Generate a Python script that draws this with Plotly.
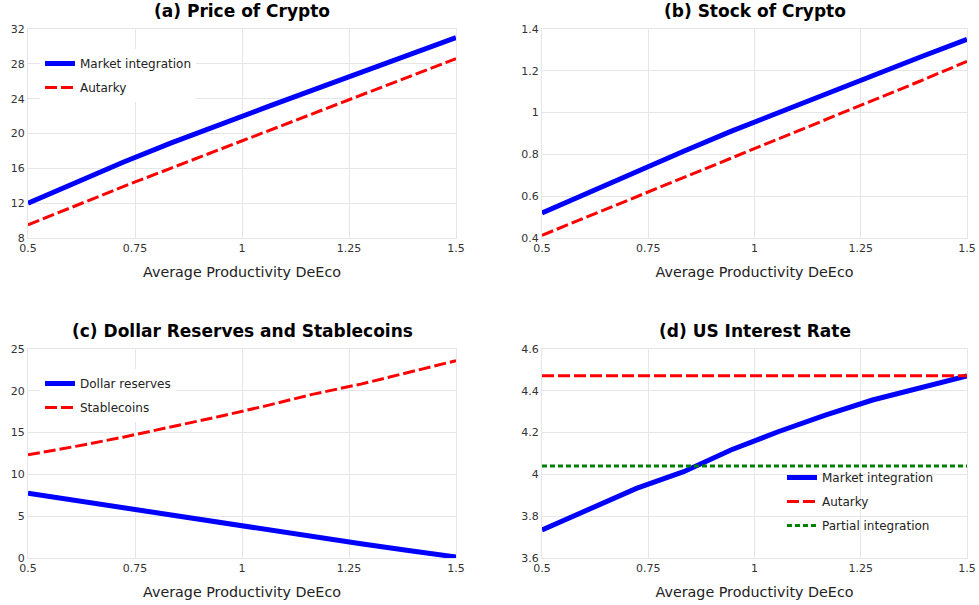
import plotly.graph_objects as go

x = [0.5, 0.6111, 0.7222, 0.8333, 0.9444, 1.0556, 1.1667, 1.2778, 1.3889, 1.5]

price_market = [12.0, 14.4, 16.7, 18.9, 21.0, 23.0, 25.0, 27.0, 29.0, 31.0]
price_autarky = [9.5, 11.7, 13.9, 16.0, 18.1, 20.2, 22.3, 24.4, 26.5, 28.6]

stock_market = [0.52, 0.62, 0.72, 0.815, 0.91, 1.0, 1.09, 1.18, 1.265, 1.35]
stock_autarky = [0.413, 0.505, 0.597, 0.689, 0.781, 0.873, 0.965, 1.057, 1.15, 1.245]

dollar_reserves = [7.75, 6.88, 6.0, 5.1, 4.25, 3.35, 2.5, 1.7, 0.9, 0.12]
stablecoins = [12.35, 13.35, 14.45, 15.65, 16.9, 18.2, 19.6, 20.8, 22.2, 23.6]

rate_market = [3.734, 3.833, 3.933, 4.013, 4.117, 4.204, 4.284, 4.356, 4.412, 4.471]
rate_autarky = [4.472] * 10
rate_partial = [4.04] * 10

titles = ["(a) Price of Crypto", "(b) Stock of Crypto",
          "(c) Dollar Reserves and Stablecoins", "(d) US Interest Rate"]
xlabel = "Average Productivity DeEco"
xticks = [0.5, 0.75, 1, 1.25, 1.5]
xticklabels = ["0.5", "0.75", "1", "1.25", "1.5"]
yt_a = [8, 12, 16, 20, 24, 28, 32]
yt_b = [0.4, 0.6, 0.8, 1.0, 1.2, 1.4]
yt_c = [0, 5, 10, 15, 20, 25]
yt_d = [3.6, 3.8, 4.0, 4.2, 4.4, 4.6]

FONT = "Verdana, DejaVu Sans, sans-serif"
BLUE = "#0000ff"
RED = "#ff0000"
GREEN = "#008000"

fig = go.Figure()

def blue(xx, yy, name, xa, ya, legend, show=True):
    fig.add_trace(go.Scatter(x=xx, y=yy, name=name, mode="lines",
                             line=dict(color=BLUE, width=5),
                             xaxis=xa, yaxis=ya, legend=legend, showlegend=show,
                             legendgroup=xa + name))

def red(xx, yy, name, xa, ya, legend, show=True):
    fig.add_trace(go.Scatter(x=xx, y=yy, name=name, mode="lines",
                             line=dict(color=RED, width=3, dash="12px,4px"),
                             xaxis=xa, yaxis=ya, legend=legend, showlegend=show,
                             legendgroup=xa + name))

blue(x, price_market, "Market integration", "x", "y", "legend")
red(x, price_autarky, "Autarky", "x", "y", "legend")
blue(x, stock_market, "Market integration", "x2", "y2", "legend", False)
red(x, stock_autarky, "Autarky", "x2", "y2", "legend", False)
blue(x, dollar_reserves, "Dollar reserves", "x3", "y3", "legend2")
red(x, stablecoins, "Stablecoins", "x3", "y3", "legend2")
blue(x, rate_market, "Market integration", "x4", "y4", "legend3")
red(x, rate_autarky, "Autarky", "x4", "y4", "legend3")
fig.add_trace(go.Scatter(x=x, y=rate_partial, name="Partial integration", mode="lines",
                         line=dict(color=GREEN, width=3, dash="5px,3px"),
                         xaxis="x4", yaxis="y4", legend="legend3",
                         legendgroup="x4partial"))

W, H = 979, 605
L, R, T, B = 28, 967, 29, 558          # pixel extents of the plot grid
ml, mt = L, T
mr, mb = W - R, H - B
pw, ph = W - ml - mr, H - mt - mb
dx1 = [0, (456 - L) / pw]
dx2 = [(542 - L) / pw, 1]
dy1 = [(B - 238) / ph, 1]
dy2 = [0, (B - 349) / ph]

def px_x(sx):
    return (sx - L) / pw

def px_y(sy):
    return (B - sy) / ph

grid = "#e6e6e6"
def xax(domain, anchor):
    return dict(domain=domain, anchor=anchor, range=[0.5, 1.5], tickvals=xticks,
                ticktext=xticklabels, showgrid=True, gridcolor=grid, gridwidth=1,
                zeroline=False, showline=True, linecolor=grid, mirror=True, automargin=False,
                ticks="", tickfont=dict(size=11, color="#333", family=FONT),
                title=dict(text=xlabel, font=dict(size=14.3, color="#222", family=FONT), standoff=12))

def yax(domain, anchor, rng, tickvals):
    return dict(domain=domain, anchor=anchor, range=rng, tickvals=tickvals,
                ticktext=["%g" % v for v in tickvals],
                showgrid=True, gridcolor=grid, gridwidth=1, zeroline=False, showline=True,
                linecolor=grid, mirror=True, automargin=False, ticks="",
                tickfont=dict(size=11, color="#333", family=FONT))

legend_common = dict(borderwidth=0, font=dict(size=12, color="#222", family=FONT),
                     xanchor="left", yanchor="top", tracegroupgap=5)

fig.update_layout(
    width=W, height=H, margin=dict(l=ml, r=mr, t=mt, b=mb, autoexpand=False),
    paper_bgcolor="white", plot_bgcolor="white",
    font=dict(family=FONT), hovermode=False,
    xaxis=xax(dx1, "y"), yaxis=yax(dy1, "x", [8, 32], yt_a),
    xaxis2=xax(dx2, "y2"), yaxis2=yax(dy1, "x2", [0.4, 1.4], yt_b),
    xaxis3=xax(dx1, "y3"), yaxis3=yax(dy2, "x3", [0, 25], yt_c),
    xaxis4=xax(dx2, "y4"), yaxis4=yax(dy2, "x4", [3.6, 4.6], yt_d),
    legend=dict(x=px_x(40), y=px_y(49), bgcolor="white", **legend_common),
    legend2=dict(x=px_x(40), y=px_y(369), bgcolor="white", **legend_common),
    legend3=dict(x=px_x(782), y=px_y(463), bgcolor="rgba(255,255,255,0)", **legend_common),
    showlegend=True,
)

centers = [(dx1[0] + dx1[1]) / 2, (dx2[0] + dx2[1]) / 2]
tpos = [(centers[0], dy1[1]), (centers[1], dy1[1]), (centers[0], dy2[1]), (centers[1], dy2[1])]
for t, (cx, cy) in zip(titles, tpos):
    fig.add_annotation(text="<b>" + t + "</b>", x=cx, y=cy, xref="paper", yref="paper",
                       xanchor="center", yanchor="middle", yshift=18, showarrow=False,
                       font=dict(size=17, color="black", family=FONT))

fig.write_html("out.html", config={"displayModeBar": False},
               post_script="document.body.style.margin='0';document.body.style.overflow='hidden';")
